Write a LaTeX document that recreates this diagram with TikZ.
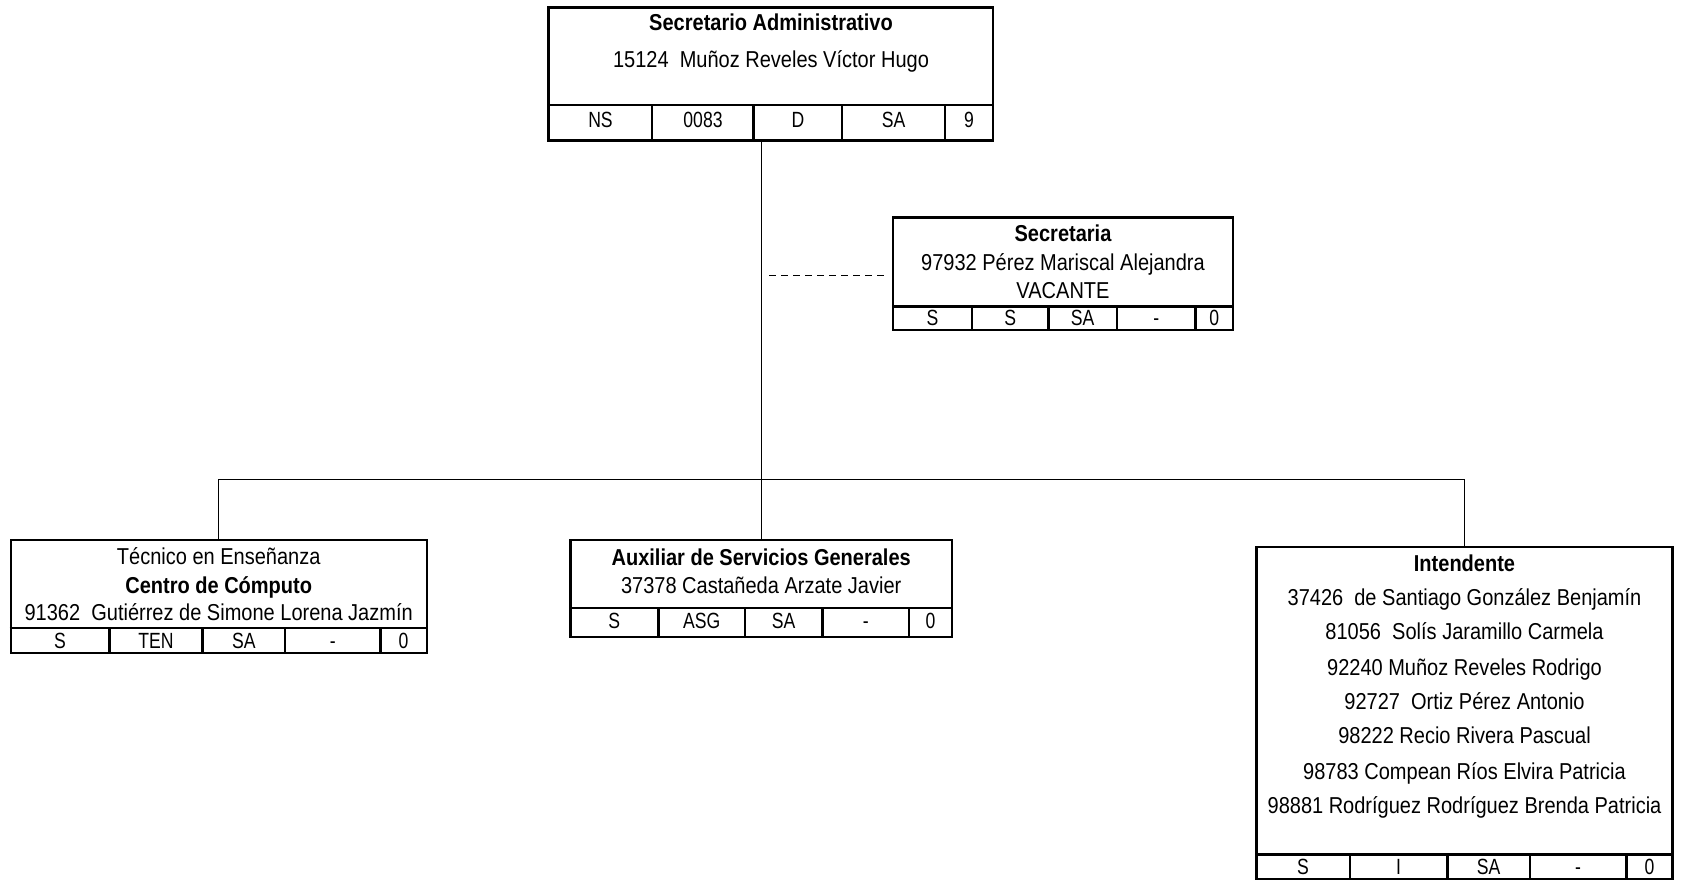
\documentclass[tikz,border=0pt]{standalone}
\usepackage{fontspec}
\setmainfont{Liberation Sans}[FakeStretch=0.87]
\newfontfamily\filafont{Liberation Sans}[FakeStretch=0.8]
\usepackage{tikz}
\usetikzlibrary{fit}
\tikzset{
  caja/.style    = {draw,line width=1.2pt,inner sep=0pt},
  renglon/.style = {line width=1.2pt},
  texto/.style   = {anchor=base,inner sep=0pt,font=\fontsize{11.5}{13}\selectfont},
  titulo/.style  = {texto,font=\fontsize{11.5}{13}\selectfont\bfseries},
  celda/.style   = {anchor=base,inner sep=0pt,font=\filafont\fontsize{11}{12}\selectfont},
  liga/.style    = {line width=0.7pt},
  punteada/.style= {line width=0.8pt,dash pattern=on 3.5pt off 2.5pt}
}
% bottom row of a box: name, row top, text base, separators, centre/label pairs
\newcommand{\fila}[5]{%
  \draw[renglon] (#1.west |- 0,#2) -- (#1.east |- 0,#2);
  \foreach \sx in {#4} \draw[renglon] (\sx,#2) -- (\sx,#2 |- #1.south);
  \foreach \cx/\ct [count=\k] in {#5} \node[celda] (#1c\k) at (\cx,#3) {\ct};
}

\begin{document}
\begin{tikzpicture}[x=0.5pt,y=-0.5pt]
  \useasboundingbox (0,0) rectangle (1681,886);
  % boxes
  \node[caja,fit={(548.5,7.5) (992.7,140.7)}] (sadm) {};
  \node[caja,fit={(893,217.6) (1232.7,330)}]  (sec)  {};
  \node[caja,fit={(10.7,539.8) (426.7,653)}]  (tec)  {};
  \node[caja,fit={(570.4,539.8) (952,636.8)}] (aux)  {};
  \node[caja,fit={(1256.5,547) (1672.5,879)}] (int)  {};
  % rows
  \fila{sadm}{105}{128}{652,753.5,842,945}{600.5/NS,703/0083,798/D,893.5/SA,969/9}
  \fila{sec}{306.6}{326}{972,1048.5,1117,1195.4}{932.5/S,1010.2/S,1082.7/SA,1156.2/-,1214.2/0}
  \fila{tec}{628}{648.5}{109.4,202.6,285.2,380.6}{60/S,156/TEN,243.9/SA,332.9/-,403.6/0}
  \fila{aux}{607.9}{628.5}{658.3,745.1,822.3,909.2}{614.3/S,701.7/ASG,783.7/SA,865.7/-,930.6/0}
  \fila{int}{854.5}{874}{1349.8,1447.3,1529.9,1626.4}{1303.1/S,1398.5/I,1488.6/SA,1578.1/-,1649.4/0}
  % texts
  \node[titulo] (sadmt) at (771,30.8) {Secretario Administrativo};
  \node[texto]  (sadmn) at (771,67.3) {15124\ \ Muñoz Reveles Víctor Hugo};
  \node[titulo] (sect)  at (1063,242) {Secretaria};
  \node[texto]  (secn)  at (1063,271) {97932 Pérez Mariscal Alejandra};
  \node[texto]  (secv)  at (1063,298.8) {VACANTE};
  \node[texto]  (tecp)  at (218.7,564.7) {Técnico en Enseñanza};
  \node[titulo] (tect)  at (218.7,593.7) {Centro de Cómputo};
  \node[texto]  (tecn)  at (218.7,620.5) {91362\ \ Gutiérrez de Simone Lorena Jazmín};
  \node[titulo] (auxt)  at (761.2,565.8) {Auxiliar de Servicios Generales};
  \node[texto]  (auxn)  at (761.2,593.7) {37378 Castañeda Arzate Javier};
  \node[titulo] (intt)  at (1464.5,571.2) {Intendente};
  \foreach \ny/\nt [count=\k] in {605.5/{37426\ \ de Santiago González Benjamín},
      639.8/{81056\ \ Solís Jaramillo Carmela},
      675.1/{92240 Muñoz Reveles Rodrigo},
      709.4/{92727\ \ Ortiz Pérez Antonio},
      743.8/{98222 Recio Rivera Pascual},
      779.1/{98783 Compean Ríos Elvira Patricia},
      813.4/{98881 Rodríguez Rodríguez Brenda Patricia}}
    \node[texto] (intn\k) at (1464.5,\ny) {\nt};
  % connectors
  \coordinate (bus) at (761.2,479.3);
  \coordinate (guion) at (769,275.5);
  \draw[liga] (sadm.south -| aux.north) -- (aux.north);
  \draw[liga] (tec.north) |- (bus) -| (int.north);
  \draw[punteada] (guion) -- (guion -| sec.west) [shorten >=2.5pt];
\end{tikzpicture}
\end{document}
